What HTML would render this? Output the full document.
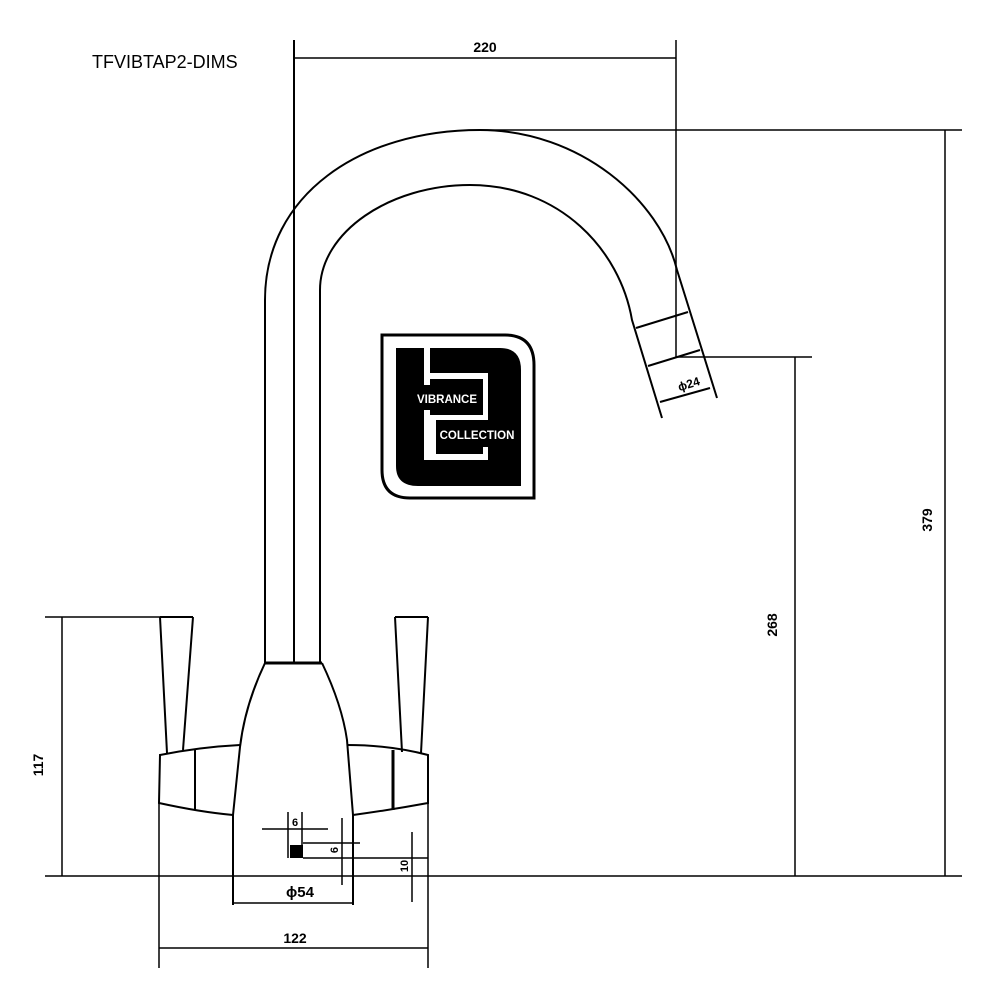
<!DOCTYPE html>
<html><head><meta charset="utf-8"><style>html,body{margin:0;background:#fff}svg{display:block}</style></head><body>
<svg width="1000" height="1000" viewBox="0 0 1000 1000" xmlns="http://www.w3.org/2000/svg" font-family="Liberation Sans, sans-serif">
<g fill="none" stroke="#000" stroke-width="2">
<path d="M265,663 L265,300 C265,195 360,130 480,130 C580,130 660,200 677,270 L717,398"/>
<path d="M320,663 L320,290 C320,232 390,185 470,185 C560,185 620,250 632,320 L662,418"/>
<line x1="294" y1="40" x2="294" y2="663"/>
<line x1="636" y1="328" x2="688" y2="312"/>
<line x1="648" y1="366" x2="700" y2="350"/>
<line x1="660" y1="402" x2="710" y2="388"/>
<line x1="265" y1="663" x2="322" y2="663" stroke-width="3"/>
<path d="M265,663 Q245,705 240,747 L233,815 L233,905"/>
<path d="M322,663 Q342,705 347,740 L353,815 L353,905"/>
<path d="M160,617 L167,753 M193,617 L183,750"/>
<line x1="160" y1="617" x2="193" y2="617"/>
<path d="M240,745 Q200,747 160,755 L159,803 Q200,812 233,815"/>
<line x1="195" y1="750" x2="195" y2="810"/>
<path d="M395,617 L402,752 M428,617 L421,753"/>
<line x1="395" y1="617" x2="428" y2="617"/>
<path d="M347,745 Q390,745 428,755 L428,803 Q390,810 353,815"/>
<line x1="393" y1="750" x2="393" y2="810" stroke-width="3"/>
</g>
<g fill="none" stroke="#000" stroke-width="1.5">
<line x1="294" y1="58" x2="676" y2="58"/>
<line x1="676" y1="40" x2="676" y2="357"/>
<line x1="480" y1="130" x2="962" y2="130"/>
<line x1="676" y1="357" x2="812" y2="357"/>
<line x1="45" y1="876" x2="962" y2="876"/>
<line x1="945" y1="130" x2="945" y2="876"/>
<line x1="795" y1="357" x2="795" y2="876"/>
<line x1="45" y1="617" x2="160" y2="617"/>
<line x1="62" y1="617" x2="62" y2="876"/>
<line x1="159" y1="803" x2="159" y2="968"/>
<line x1="428" y1="803" x2="428" y2="968"/>
<line x1="159" y1="948" x2="428" y2="948"/>
<line x1="233" y1="903" x2="353" y2="903"/>
<line x1="262" y1="829" x2="328" y2="829"/>
<line x1="288" y1="812" x2="288" y2="858"/>
<line x1="302" y1="812" x2="302" y2="858"/>
<line x1="303" y1="843" x2="360" y2="843"/>
<line x1="303" y1="858" x2="428" y2="858"/>
<line x1="342" y1="818" x2="342" y2="885"/>
<line x1="412" y1="832" x2="412" y2="902"/>
</g>
<rect x="290" y="845" width="13" height="13" fill="#000"/>
<g fill="#000" font-size="14" font-weight="bold">
<text x="92" y="68" font-size="18" font-weight="normal">TFVIBTAP2-DIMS</text>
<text x="485" y="52" text-anchor="middle">220</text>
<text x="295" y="943" text-anchor="middle">122</text>
<text x="300" y="897" text-anchor="middle" font-size="15">ϕ54</text>
<text x="295" y="826" text-anchor="middle" font-size="11">6</text>
<text transform="translate(932,520) rotate(-90)" text-anchor="middle">379</text>
<text transform="translate(777,625) rotate(-90)" text-anchor="middle">268</text>
<text transform="translate(43,765) rotate(-90)" text-anchor="middle">117</text>
<text transform="translate(338,850) rotate(-90)" text-anchor="middle" font-size="11">6</text>
<text transform="translate(408,866) rotate(-90)" text-anchor="middle" font-size="11">10</text>
<text transform="translate(690,388) rotate(-17)" text-anchor="middle" font-size="12">ϕ24</text>
</g>
<path d="M382,335 L505,335 Q534,335 534,365 L534,498 L410,498 Q382,498 382,470 Z" fill="none" stroke="#000" stroke-width="3"/>
<path d="M396,348 L500,348 Q521,348 521,370 L521,486 L418,486 Q396,486 396,466 Z" fill="#000"/>
<g fill="#fff">
<rect x="424" y="348" width="6" height="37"/>
<rect x="424" y="373" width="64" height="6"/>
<rect x="483" y="373" width="5" height="47"/>
<rect x="424" y="410" width="6" height="50"/>
<rect x="424" y="415" width="64" height="5"/>
<rect x="430" y="420" width="6" height="40"/>
<rect x="424" y="454" width="64" height="6"/>
<rect x="483" y="447" width="5" height="13"/>
</g>
<rect x="410" y="385" width="73" height="25" fill="#000"/>
<rect x="436" y="420" width="82" height="27" fill="#000"/>
<text x="447" y="403" fill="#fff" font-size="11.5" font-weight="bold" text-anchor="middle">VIBRANCE</text>
<text x="477" y="439" fill="#fff" font-size="11.5" font-weight="bold" text-anchor="middle">COLLECTION</text>
</svg>
</body></html>
